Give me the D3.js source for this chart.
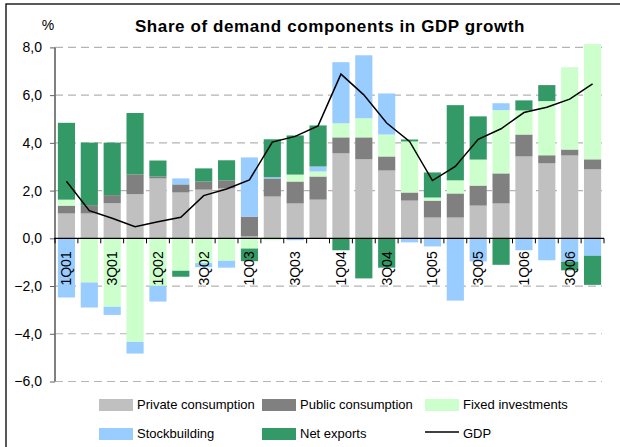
<!DOCTYPE html>
<html>
<head>
<meta charset="utf-8">
<script src="https://cdn.jsdelivr.net/npm/d3@7/dist/d3.min.js"></script>
<style>
  body { margin: 0; background: #fff; }
  svg { display: block; font-family: "Liberation Sans", Arial, sans-serif; }
</style>
</head>
<body>
<svg width="620" height="447"></svg>
<script>
const quarters = ["1Q01","2Q01","3Q01","4Q01","1Q02","2Q02","3Q02","4Q02",
                  "1Q03","2Q03","3Q03","4Q03","1Q04","2Q04","3Q04","4Q04",
                  "1Q05","2Q05","3Q05","4Q05","1Q06","2Q06","3Q06","4Q06"];
const privateCons = [1.04,1.04,1.47,1.85,2.51,1.92,2.04,2.09,0.08,1.75,1.46,1.62,3.56,3.31,2.84,1.58,0.87,0.87,1.37,1.46,3.43,3.14,3.47,2.89];
const publicCons  = [0.33,0.35,0.34,0.83,0.08,0.34,0.34,0.34,0.83,0.76,0.92,0.97,0.67,0.92,0.59,0.34,0.71,1.01,0.84,1.26,0.92,0.34,0.25,0.42];
const fixedInv    = [0.25,-1.85,-2.87,-4.34,-1.99,-1.36,-1.04,-0.94,-0.43,-0.08,0.29,0.21,0.59,0.80,0.92,2.14,0.13,0.55,1.09,2.65,1.01,2.27,3.45,4.83];
const stockBuild  = [-2.48,-1.05,-0.34,-0.49,-0.66,0.25,-0.17,-0.29,2.48,0.05,-0.08,0.21,2.56,2.64,1.72,-0.17,-0.34,-2.61,-0.97,0.29,-0.50,-0.92,-0.98,-0.73];
const netExports  = [3.22,2.62,2.20,2.57,0.67,-0.25,0.55,0.84,-0.53,1.59,1.64,1.72,-0.50,-1.68,-1.23,0.08,1.05,3.15,1.81,-1.11,0.42,0.67,-0.36,-1.22];
const gdp         = [2.39,1.16,0.84,0.49,0.69,0.88,1.79,2.07,2.45,4.03,4.27,4.71,6.88,6.01,4.83,4.06,2.42,3.01,4.15,4.59,5.27,5.49,5.83,6.47];
const yTicks = [-6,-4,-2,0,2,4,6,8];
const xLabels = ["1Q01","3Q01","1Q02","3Q02","1Q03","3Q03","1Q04","3Q04","1Q05","3Q05","1Q06","3Q06"];

const series = [
  {key: "private", name: "Private consumption", values: privateCons, color: "#c0c0c0"},
  {key: "public",  name: "Public consumption",  values: publicCons,  color: "#808080"},
  {key: "fixed",   name: "Fixed investments",   values: fixedInv,    color: "#ccffcc"},
  {key: "stock",   name: "Stockbuilding",       values: stockBuild,  color: "#99ccff"},
  {key: "nx",      name: "Net exports",         values: netExports,  color: "#339966"}
];

const rows = quarters.map((q, i) => {
  const r = {q: q};
  series.forEach(s => r[s.key] = s.values[i]);
  return r;
});

const svg = d3.select("svg");
const fmt = d => d3.format(".1f")(d).replace(".", ",");

// frame
svg.append("rect").attr("x", 6).attr("y", 4).attr("width", 640).attr("height", 460)
  .attr("fill", "none").attr("stroke", "#000").attr("stroke-width", 1.3);

const x = d3.scaleBand().domain(quarters).range([55, 604]).paddingInner(0.25).paddingOuter(0.125);
const y = d3.scaleLinear().domain([-6, 8]).range([381.5, 47.4]);

// gridlines
svg.append("g").selectAll("line").data(yTicks.filter(t => t !== 0)).join("line")
  .attr("x1", 55).attr("x2", 602)
  .attr("y1", d => y(d)).attr("y2", d => y(d))
  .attr("stroke", "#b4b4b4").attr("stroke-width", 1.2).attr("stroke-dasharray", "8,5");

// bars
const stacked = d3.stack().keys(series.map(s => s.key)).offset(d3.stackOffsetDiverging)(rows);
svg.append("g").selectAll("g").data(stacked).join("g")
  .attr("fill", (d, i) => series[i].color)
  .selectAll("rect").data(d => d).join("rect")
  .attr("x", d => x(d.data.q))
  .attr("width", x.bandwidth())
  .attr("y", d => y(Math.max(d[0], d[1])))
  .attr("height", d => Math.abs(y(d[0]) - y(d[1])));

// y axis
const yAxis = svg.append("g").attr("transform", "translate(55,0)")
  .call(d3.axisLeft(y).tickValues(yTicks).tickFormat(fmt).tickSize(5).tickPadding(8));
yAxis.select(".domain").attr("stroke", "#808080").attr("stroke-width", 2)
  .attr("d", `M0,${y(8)}V${y(-6)}`);
yAxis.selectAll(".tick line").attr("stroke", "#606060");
yAxis.selectAll("text").attr("font-size", 14).attr("fill", "#000")
  .attr("font-family", "Liberation Sans, Arial, sans-serif");

// x axis line with category ticks
const xg = svg.append("g");
xg.append("line").attr("x1", 54).attr("x2", 604).attr("y1", y(0)).attr("y2", y(0))
  .attr("stroke", "#000").attr("stroke-width", 1.3);
const bounds = quarters.map(q => x(q) - x.step() * x.paddingInner() / 2).concat([604]);
xg.selectAll("line.tk").data(bounds).join("line").attr("class", "tk")
  .attr("x1", d => d).attr("x2", d => d)
  .attr("y1", y(0)).attr("y2", y(0) + 5)
  .attr("stroke", "#000").attr("stroke-width", 1);
xg.selectAll("text").data(xLabels).join("text")
  .attr("transform", d => `translate(${x(d) + x.bandwidth() / 2 + 5},${y(0) + 13}) rotate(-90)`)
  .attr("text-anchor", "end")
  .attr("font-size", 14)
  .text(d => d);

// GDP line
svg.append("path").datum(gdp)
  .attr("fill", "none").attr("stroke", "#000").attr("stroke-width", 1.5)
  .attr("d", d3.line().x((d, i) => x(quarters[i]) + x.bandwidth() / 2).y(d => y(d)));

// title and unit
svg.append("text").attr("x", 330).attr("y", 32).attr("text-anchor", "middle")
  .attr("font-size", 17).attr("font-weight", "bold").attr("letter-spacing", 0.6)
  .text("Share of demand components in GDP growth");
svg.append("text").attr("x", 48).attr("y", 30).attr("text-anchor", "middle")
  .attr("font-size", 14).text("%");

// legend
const legendItems = series.map(s => ({name: s.name, color: s.color, line: false}))
  .concat([{name: "GDP", color: "#000", line: true}]);
const lx = [99, 262, 425];
const ly = [399, 428];
const lg = svg.append("g").selectAll("g").data(legendItems).join("g")
  .attr("transform", (d, i) => `translate(${lx[i % 3]},${ly[Math.floor(i / 3)]})`);
lg.filter(d => !d.line).append("rect").attr("width", 34).attr("height", 12).attr("fill", d => d.color);
lg.filter(d => d.line).append("line").attr("x1", 0).attr("x2", 34).attr("y1", 4).attr("y2", 4)
  .attr("stroke", "#000").attr("stroke-width", 1.5);
lg.append("text").attr("x", 38).attr("y", 10).attr("font-size", 13).text(d => d.name);
</script>
</body>
</html>
